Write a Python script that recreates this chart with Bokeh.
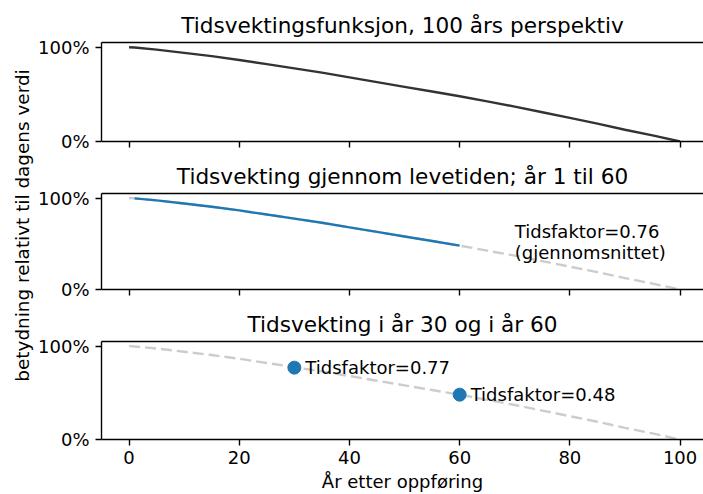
import math
from bokeh.plotting import figure
from bokeh.layouts import column, row
from bokeh.models import (Range1d, FixedTicker, NumeralTickFormatter, CustomJSTickFormatter,
                          LinearAxis)
from bokeh.core.properties import value
from bokeh.embed import file_html
from bokeh.resources import INLINE

# ---- data ----
years = [0, 1, 5, 10, 15, 20, 25, 30, 35, 40, 45, 50, 55, 60, 65, 70, 75, 80, 85, 90, 95, 100]
weight = [1.0, 0.997, 0.975, 0.94, 0.905, 0.865, 0.82, 0.775, 0.73, 0.68, 0.63, 0.58,
          0.53, 0.48, 0.425, 0.37, 0.31, 0.25, 0.19, 0.125, 0.065, 0.0]
life_start = 1
life_end = 60
dot_years = [30, 60]
dot_values = [0.77, 0.48]
mean_factor = 0.76
titles = ["Tidsvektingsfunksjon, 100 års perspektiv",
          "Tidsvekting gjennom levetiden; år 1 til 60",
          "Tidsvekting i år 30 og i år 60"]
x_ticks = [0, 20, 40, 60, 80, 100]
y_ticks = [0, 1]
x_label = "År etter oppføring"
y_label = "betydning relativt til dagens verdi"

life_years = [y for y in years if life_start <= y <= life_end]
life_weight = [w for y, w in zip(years, weight) if life_start <= y <= life_end]

FONT = "DejaVu Sans"
TICK_SIZE = "18px"
TITLE_SIZE = "21.6px"
BLUE = "#1f77b4"
DARK = "#333333"
GRAY = "#cccccc"
LABEL_W = 34
W = 703 - LABEL_W
BL = 101 - LABEL_W
TOTAL_H = 494

x_range = Range1d(-5, 104.25)


def make_fig(title, height, border_top, border_bottom, show_x_labels):
    p = figure(width=W, height=height, x_range=x_range, y_range=Range1d(0, 1.05),
               output_backend="svg", toolbar_location=None,
               min_border_left=BL, min_border_right=0, min_border_top=border_top,
               min_border_bottom=border_bottom, title=title)
    p.grid.visible = False
    p.background_fill_color = "white"
    p.border_fill_color = "white"
    p.outline_line_color = None
    p.title.text_font = FONT
    p.title.text_font_size = TITLE_SIZE
    p.title.text_font_style = "normal"
    p.title.text_color = "black"
    p.title.align = "center"
    xa = p.below[0]
    ya = p.left[0]
    for ax in (xa, ya):
        ax.axis_line_color = "black"
        ax.axis_line_width = 1.4
        ax.major_tick_line_color = "black"
        ax.major_tick_line_width = 1.4
        ax.major_tick_out = 6
        ax.major_tick_in = 0
        ax.minor_tick_line_color = None
        ax.major_label_text_font = FONT
        ax.major_label_text_font_size = TICK_SIZE
        ax.major_label_text_color = "black"
        ax.major_label_standoff = 6
    xa.ticker = FixedTicker(ticks=x_ticks)
    ya.ticker = FixedTicker(ticks=y_ticks)
    ya.formatter = NumeralTickFormatter(format="0%")
    xa.major_label_standoff = 5
    if show_x_labels:
        xa.axis_label = x_label
        xa.axis_label_text_font = FONT
        xa.axis_label_text_font_size = TICK_SIZE
        xa.axis_label_text_font_style = "normal"
        xa.axis_label_text_color = "black"
        xa.axis_label_standoff = 4
    else:
        xa.formatter = CustomJSTickFormatter(code="return ''")
        xa.major_label_text_font_size = "0px"
    # top spine (no right spine, as in the reference)
    top = LinearAxis(ticker=FixedTicker(ticks=[]), axis_line_color="black",
                     axis_line_width=1.4, major_tick_out=0, major_tick_in=0,
                     minor_tick_out=0, minor_tick_in=0, major_label_standoff=0,
                     major_label_text_font_size="0px",
                     formatter=CustomJSTickFormatter(code="return ''"))
    p.add_layout(top, "above")
    return p


p1 = make_fig(titles[0], 156, 42, 15, False)
p1.line(years, weight, line_color=DARK, line_width=2.4)

p2 = make_fig(titles[1], 148, 35, 15, False)
p2.line(years, weight, line_color=GRAY, line_width=2.4, line_dash="11 5")
p2.line(life_years, life_weight, line_color=BLUE, line_width=2.4)
p2.text(x=[70], y=[0.52], text=[f"Tidsfaktor={mean_factor:.2f}\n(gjennomsnittet)"],
        text_font=value(FONT), text_font_size=TICK_SIZE, text_color="black",
        text_align="left", text_baseline="middle", text_line_height=1.0)

p3 = make_fig(titles[2], TOTAL_H - 156 - 148, 35, 55, True)
p3.line(years, weight, line_color=GRAY, line_width=2.4, line_dash="11 5")
p3.scatter(dot_years, dot_values, size=13, fill_color=BLUE, line_color=BLUE)
p3.text(x=dot_years, y=dot_values, text=[f"Tidsfaktor={v:.2f}" for v in dot_values],
        x_offset=11, text_font=value(FONT), text_font_size=TICK_SIZE, text_color="black",
        text_align="left", text_baseline="middle")

# narrow strip holding the shared y-axis label
lab = figure(width=LABEL_W, height=TOTAL_H, x_range=Range1d(0, LABEL_W),
             y_range=Range1d(0, TOTAL_H), output_backend="svg", toolbar_location=None,
             x_axis_type=None, y_axis_type=None, min_border=0)
lab.grid.visible = False
lab.outline_line_color = None
lab.background_fill_color = "white"
lab.border_fill_color = "white"
lab.text(x=[22], y=[TOTAL_H - 225], text=[y_label], angle=math.pi / 2,
         text_font=value(FONT), text_font_size="18.4px", text_color="black",
         text_align="center", text_baseline="middle")

layout = row(lab, column(p1, p2, p3, spacing=0), spacing=0)
open("out.html", "w").write(file_html(layout, INLINE))
